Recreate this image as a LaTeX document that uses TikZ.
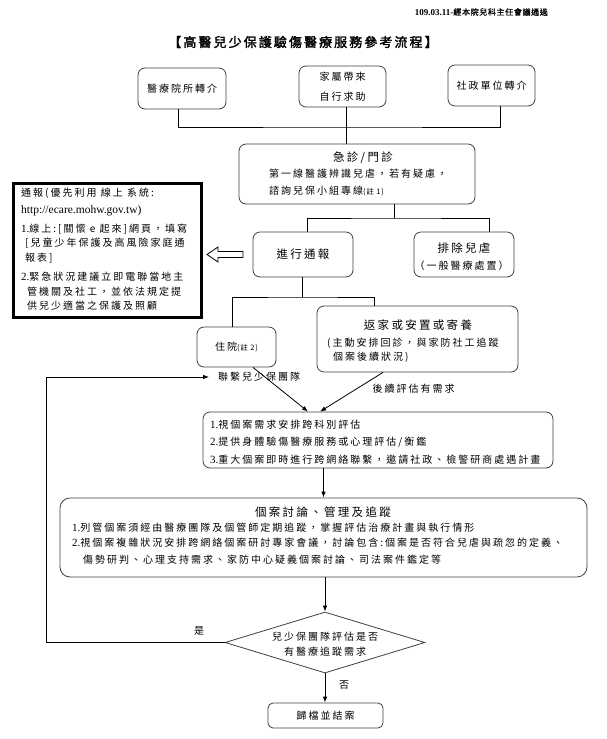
\documentclass[tikz,border=0pt]{standalone}
\usepackage{fontspec}
\usetikzlibrary{shapes.geometric,arrows.meta,calc}
\setmainfont{Noto Sans CJK TC}
\newfontfamily\cjk[LetterSpace=20]{Noto Sans CJK TC}
\newfontfamily\cjkh[LetterSpace=10]{Noto Sans CJK TC}
\newfontfamily\cjkb[LetterSpace=16,FakeBold=2]{Noto Sans CJK TC}
\newfontfamily\cjkhb[LetterSpace=8,FakeBold=1]{Noto Sans CJK TC}
\newfontfamily\tms{Liberation Serif}
\newcommand\tnum[1]{{\fontsize{11}{13}\selectfont\tms #1}}
\newcommand\smtxt{\fontsize{10}{12}\selectfont\cjk}
\newcommand\bigtxt{\fontsize{11.5}{14}\selectfont\cjk}
\newcommand\notes[1]{{\fontsize{7.5}{9}\selectfont\cjkh #1}}
\begin{document}
\begin{tikzpicture}[x=1pt,y=-1pt,
  box/.style={draw=black!75, line width=0.8pt, rounded corners=7pt, fill=white, inner sep=0pt},
  line/.style={draw=black, line width=0.8pt},
  arr/.style={line, -{Latex[length=6pt,width=4.5pt]}},
  txt/.style={inner sep=0pt, font=\smtxt},
  bigt/.style={inner sep=0pt, font=\bigtxt}]
\useasboundingbox (0,0) rectangle (606,739);

% header and title
\node[anchor=east, inner sep=0pt] (hdr) at (548,12) {{\tms\bfseries\fontsize{9}{10}\selectfont 109.03.11-}{\cjkhb\fontsize{8}{9}\selectfont 經本院兒科主任會議通過}};
\node[inner sep=0pt, font=\fontsize{13}{15}\selectfont\cjkb] (ttl) at (303,42) {【高醫兒少保護驗傷醫療服務參考流程】};

% top sources
\node[box, minimum width=88pt, minimum height=41pt, font=\smtxt] (b1) at (182,88.5) {醫療院所轉介};
\node[box, minimum width=87pt, minimum height=41pt, align=center, font=\fontsize{10}{20}\selectfont\cjk] (b2) at (342.5,86.5) {家屬帶來\\自行求助};
\node[box, minimum width=87pt, minimum height=41pt, font=\smtxt] (b3) at (491.5,85.5) {社政單位轉介};

% emergency / outpatient
\node[box, minimum width=236pt, minimum height=60pt] (b4) at (357,174) {};
\node[bigt] (b4t) at (363,158) {急診/門診};
\node[txt, anchor=west] (b4a) at (269,174) {第一線醫護辨識兒虐，若有疑慮，};
\node[txt, anchor=west] (b4b) at (269,191) {諮詢兒保小組專線\notes{(註 1)}};

\coordinate (j1) at (346,127);
\draw[line] ([xshift=-4pt]b1.south) |- (j1) -| ([xshift=8.5pt]b3.south);
\draw[line] (b2.south -| j1) -- (j1 |- b4.north);

% report / exclude
\node[box, minimum width=100pt, minimum height=45pt, font=\bigtxt] (b5) at (303,254.5) {進行通報};
\node[box, minimum width=100pt, minimum height=45pt] (b6) at (464,254.5) {};
\node[bigt] (b6t) at (464,248) {排除兒虐};
\node[txt] (b6s) at (461.5,266) {（一般醫療處置）};

\coordinate (j2) at (394,218);
\draw[line] (b4.south -| j2) -- (j2);
\draw[line] ([xshift=4pt]b5.north) |- (j2) -| ([xshift=25pt]b6.north);

% left info box
\node[draw=black, line width=3pt, minimum width=188pt, minimum height=134pt, inner sep=0pt] (L) at (107.5,250.5) {};
\node[txt, anchor=west] (L1) at (21,193) {通報(優先利用 線上 系統:};
\node[inner sep=0pt, anchor=west, font=\fontsize{11.5}{13}\selectfont\tms] (L2) at (21,211) {http://ecare.mohw.gov.tw)};
\node[txt, anchor=west] (L3) at (21,229) {\tnum{1.}線上:[關懷 e 起來]網頁，填寫};
\node[txt, anchor=west] (L4) at (25,243) {[兒童少年保護及高風險家庭通};
\node[txt, anchor=west] (L5) at (25,258) {報表]};
\node[txt, anchor=west] (L6) at (21,277) {\tnum{2.}緊急狀況建議立即電聯當地主};
\node[txt, anchor=west] (L7) at (27,292) {管機關及社工，並依法規定提};
\node[txt, anchor=west] (L8) at (27,306) {供兒少適當之保護及照顧};

% hollow arrow from report box to info box
\coordinate (hat) at ($(L.east |- b5.west)+(4,0)$);
\draw[line, fill=white, line join=miter] (hat) -- ++(11,-7.5) -- ++(0,4.5) -- ++(25,0) -- ++(0,6) -- ++(-25,0) -- ++(0,4.5) -- cycle;

% hospitalization / return home
\node[box, minimum width=79pt, minimum height=40pt, font=\smtxt] (b7) at (236.5,347) {住院\notes{(註 2)}};
\node[box, minimum width=201pt, minimum height=66pt] (b8) at (417.5,339) {};
\node[bigt] (b8t) at (418,325) {返家或安置或寄養};
\node[txt, anchor=west] (b8a) at (327,343) {(主動安排回診，與家防社工追蹤};
\node[txt, anchor=west] (b8b) at (333,357) {個案後續狀況)};

\coordinate (j3) at (302,297);
\draw[line] (b5.south -| j3) -- (j3);
\draw[line] ([xshift=-4.5pt]b7.north) |- (j3) -| ([xshift=-43.5pt]b8.north);

% assessment box
\node[box, minimum width=350pt, minimum height=56pt] (b9) at (378,440) {};
\node[txt, anchor=west] (b9a) at (210,425) {\tnum{1.}視個案需求安排跨科別評估};
\node[txt, anchor=west] (b9b) at (210,442) {\tnum{2.}提供身體驗傷醫療服務或心理評估/衡鑑};
\node[txt, anchor=west] (b9c) at (210,460) {\tnum{3.}重大個案即時進行跨網絡聯繫，邀請社政、檢警研商處遇計畫};

\node[txt, anchor=west] (lbl) at (218,377) {聯繫兒少保團隊};
\node[txt] (lbl2) at (413.5,389) {後續評估有需求};

\draw[arr] ([xshift=16.5pt]b7.south) -- ([xshift=-70pt]b9.north);
\draw[arr] ([xshift=-34.5pt]b8.south) -- ([xshift=-58pt]b9.north);

% case management
\node[box, minimum width=527pt, minimum height=79pt, rounded corners=10pt] (b10) at (323.5,537.5) {};
\node[bigt] (b10t) at (323,512) {個案討論、管理及追蹤};
\node[txt, anchor=west] (b10a) at (72,528) {\tnum{1.}列管個案須經由醫療團隊及個管師定期追蹤，掌握評估治療計畫與執行情形};
\node[txt, anchor=west] (b10b) at (72,543) {\tnum{2.}視個案複雜狀況安排跨網絡個案研討專家會議，討論包含:個案是否符合兒虐與疏忽的定義、};
\node[txt, anchor=west] (b10c) at (83,560) {傷勢研判、心理支持需求、家防中心疑義個案討論、司法案件鑑定等};

\draw[arr] (b9.south -| b10.north) -- (b10.north);

% decision
\node[diamond, draw=black!75, line width=0.8pt, fill=white, minimum width=200pt, minimum height=61pt, inner sep=0pt] (d) at (325,642.5) {};
\node[inner sep=0pt, align=center, font=\fontsize{10}{15}\selectfont\cjk] (dt) at (325,644.5) {兒少保團隊評估是否\\有醫療追蹤需求};
\draw[arr] (b10.south -| d.north) -- (d.north);

\node[box, minimum width=115pt, minimum height=25pt, rounded corners=5pt, font=\smtxt] (b11) at (325.5,715.5) {歸檔並結案};
\draw[arr] (d.south) -- (d.south |- b11.north);
\node[txt] (no) at (344,685) {否};
\node[txt] (yes) at (199,631) {是};

\coordinate (lc) at (46,642.5);
\draw[arr] (d.west) -- (lc) |- ([xshift=-9pt]lbl.west);
\end{tikzpicture}
\end{document}
